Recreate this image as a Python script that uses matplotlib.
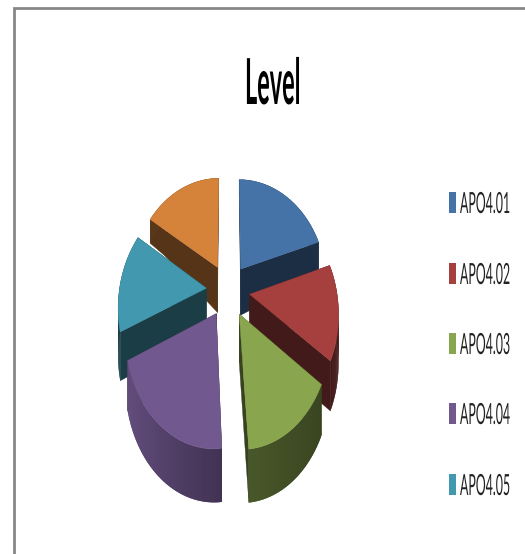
import numpy as np
import matplotlib
matplotlib.use('agg')
import matplotlib.pyplot as plt
from matplotlib.colors import to_rgb
from matplotlib.patches import Rectangle
from matplotlib.patheffects import AbstractPathEffect
from matplotlib.transforms import Affine2D

title = "Level"
labels = ["APO4.01", "APO4.02", "APO4.03", "APO4.04", "APO4.05"]
values = [20.6, 13.9, 14.4, 19.9, 14.7, 16.6]
colors = ["#4572a7", "#a5403e", "#89a54e", "#71588f", "#4198af", "#d5823b"]
draw_order = [5, 0, 4, 1, 3, 2]

# perspective of the tilted pie, in pixels
cx, cy = 228, 290
sx, sy, persp = 87, 108, 0.145
explode = 0.25


class Stretch(AbstractPathEffect):
    # the source picture was squeezed sideways, so glyphs are tall and thin
    def __init__(self, ky):
        super().__init__()
        self.ky = ky

    def draw_path(self, renderer, gc, tpath, affine, rgbFace=None):
        renderer.draw_path(gc, tpath, Affine2D().scale(1, self.ky) + affine, rgbFace)


def project(x, y):
    w = 1 + persp * y
    return cx + sx * x / w, cy - sy * y / w


def depth(y):
    return np.interp(y, [-1.3, -0.6, 0.2, 0.6, 1.2], [54, 50, 46, 26, 15])


def shade(c, f):
    return tuple(np.array(to_rgb(c)) * f)


def draw_slice(ax, a0, a1, color):
    mid = (a0 + a1) / 2
    ex, ey = explode * np.sin(mid), explode * np.cos(mid)
    t = np.linspace(a0, a1, 60)
    rim_x, rim_y = ex + np.sin(t), ey + np.cos(t)

    # flat cut faces
    for a in (a0, a1):
        r = np.linspace(0, 1, 20)
        px = ex + r * np.sin(a)
        py = ey + r * np.cos(a)
        X, Y = project(px, py)
        Yb = Y + depth(py)
        ax.fill(np.r_[X, X[::-1]], np.r_[Y, Yb[::-1]], color=shade(color, 0.4), lw=0.3)

    # outer wall, darker to the right, quads overlap so no seams show
    X, Y = project(rim_x, rim_y)
    Yb = Y + depth(rim_y)
    for i in range(len(t) - 1):
        j = min(i + 2, len(t) - 1)
        f = np.interp(rim_x[i], [-1.2, 0, 1.2], [0.92, 0.56, 0.38])
        if rim_y[i] > -0.45:
            f = 0.42
        ax.fill([X[i], X[j], X[j], X[i]], [Y[i], Y[j], Yb[j], Yb[i]],
                color=shade(color, f), lw=0)

    # top face
    ax0, ay0 = project(ex, ey)
    ax.fill(np.r_[ax0, X], np.r_[ay0, Y], color=color, lw=0.3)


fig = plt.figure(figsize=(5.25, 5.54), dpi=100)
ax = fig.add_axes([0, 0, 1, 1])
ax.set_xlim(0, 525)
ax.set_ylim(554, 0)
ax.axis('off')

# chart frame, cut by the crop on the right and bottom
ax.plot([14, 14, 525], [554, 7.5, 7.5], color="#878787", lw=2, solid_joinstyle='miter')

edges = np.radians(np.r_[0, np.cumsum(values)] / sum(values) * 360)
for i in draw_order:
    draw_slice(ax, edges[i], edges[i + 1], colors[i])

ax.text(245, 104, title, fontsize=16.9, fontweight='bold', family='Lato', ha='left',
        va='baseline', color='black', path_effects=[Stretch(2.7)])

legend_y = [202.5, 273.5, 343.5, 413.5, 484.5]
for i, lab in enumerate(labels):
    ax.add_patch(Rectangle((448.5, legend_y[i] - 10.5), 7.5, 21, facecolor=colors[i],
                           edgecolor='none'))
    ax.text(460, legend_y[i] + 10.5, lab, fontsize=8.9, family='Lato', ha='left',
            va='baseline', color='#222222', path_effects=[Stretch(2.36)])

fig.savefig("out.png", dpi=100)
